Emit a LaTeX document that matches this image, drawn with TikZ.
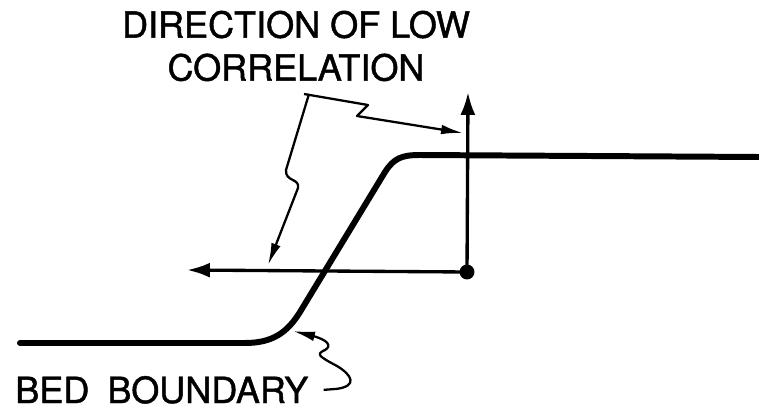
\documentclass[tikz,border=0pt]{standalone}
\usepackage{fontspec}
\setmainfont{TeX Gyre Heros}[BoldFont=TeX Gyre Heros, BoldFeatures={FakeBold=1.2}]
\usetikzlibrary{arrows.meta, positioning}

\begin{document}
\begin{tikzpicture}[
  x=0.02cm, y=-0.02cm,
  bed/.style={line width=3.4pt, line cap=round, line join=round},
  axis/.style={line width=1.9pt, -{Latex[length=13pt, width=8.5pt]}},
  leader/.style={line width=1.3pt, line join=round, -{Latex[length=12.5pt, width=5.5pt]}},
  lbl/.style={font=\fontsize{20.5}{24.4}\selectfont\bfseries, inner sep=0pt, align=center},
  dot/.style={circle, fill, inner sep=0pt, minimum size=8.5pt}
]
\useasboundingbox (0,0) rectangle (759,412);

% Labels
\node[lbl] (title) at (296,46) {DIRECTION OF LOW\\CORRELATION};
\node[lbl, anchor=base west] (bedlbl) at (15,403) {BED\hspace{0.5em}BOUNDARY};

% Bed boundary
\draw[bed] (20,343) -- (245,343) .. controls (272,343) and (287,333) .. (300,312)
  -- (385,172) .. controls (394,158) and (402,155) .. (420,155) -- (759,157);

% Directions
\node[dot] (o) at (467,272) {};
\coordinate (up) at (468,92);
\coordinate (lft) at (187,270);
\draw[axis] (o.center) -- (up);
\draw[axis] (o.center) -- (lft);

% Leaders
\coordinate (apex) at (309,94);
\coordinate (ltip) at (268,265);
\coordinate (rtip) at (463,133);
\coordinate (btip) at (293,331);
\draw[leader] (apex) -- (286,170) .. controls (285,182) and (300,178) .. (298,188) -- (ltip);
\draw[leader] (304,94) -- (368,105) -- (357,116) -- (rtip);
\draw[leader] ([xshift=0.3cm]bedlbl.east) -- ++(13,-1) .. controls (358,386) and (352,375) .. (337,366)
  .. controls (318,356) and (316,354) .. (325,350) .. controls (332,346) and (328,340) .. (313,336) -- (btip);

\end{tikzpicture}
\end{document}
